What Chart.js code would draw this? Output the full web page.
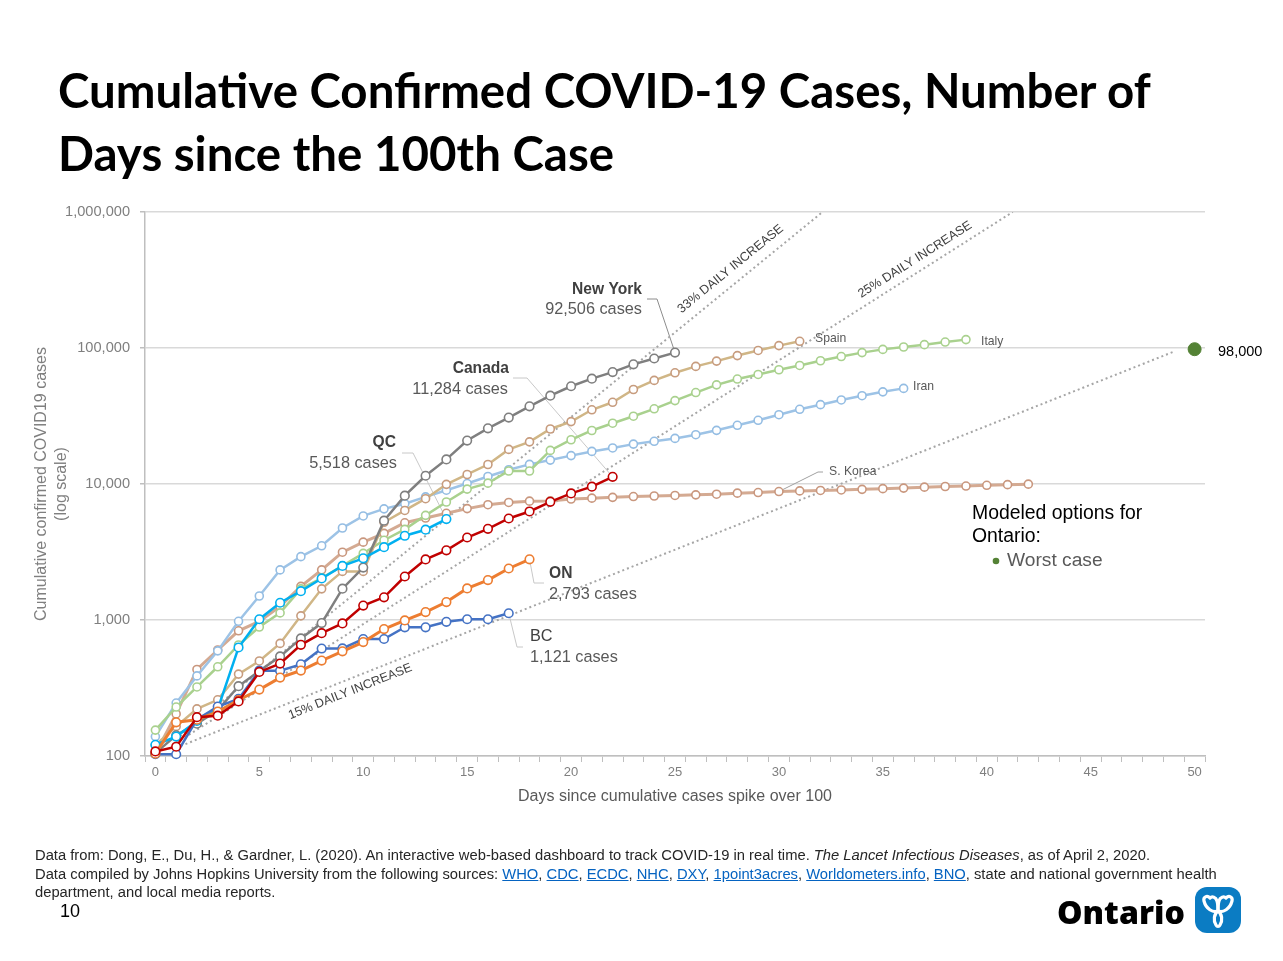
<!DOCTYPE html>
<html>
<head>
<meta charset="utf-8">
<script src="https://cdn.jsdelivr.net/npm/chart.js@4.4.0/dist/chart.umd.min.js"></script>
<style>
html,body{margin:0;padding:0;background:#fff;}
body{width:1283px;height:961px;position:relative;overflow:hidden;font-family:"Liberation Sans",Arial,sans-serif;}
#c{position:absolute;left:0;top:0;}
.t{position:absolute;white-space:nowrap;line-height:1.2;}
.title{font-family:Lato,"Open Sans",sans-serif;font-weight:700;color:#000;}
.foot{font-size:14px;color:#262626;}
.foot a{color:#0563c1;text-decoration:underline;}
#pg{font-size:18px;color:#000;}
#ont{font-family:"Open Sans",Lato,sans-serif;font-weight:800;color:#000;}
#logo{position:absolute;left:1195px;top:887px;width:46px;height:46px;}
</style>
</head>
<body>
<canvas id="c" width="1283" height="961"></canvas>
<div class="t title" id="t1">Cumulative Confirmed COVID-19 Cases, Number of</div>
<div class="t title" id="t2">Days since the 100th Case</div>
<div class="t foot" id="f1">Data from: Dong, E., Du, H., &amp; Gardner, L. (2020). An interactive web-based dashboard to track COVID-19 in real time. <i>The Lancet Infectious Diseases</i>, as of April 2, 2020.</div>
<div class="t foot" id="f2">Data compiled by Johns Hopkins University from the following sources: <a>WHO</a>, <a>CDC</a>, <a>ECDC</a>, <a>NHC</a>, <a>DXY</a>, <a>1point3acres</a>, <a>Worldometers.info</a>, <a>BNO</a>, state and national government health</div>
<div class="t foot" id="f3">department, and local media reports.</div>
<div class="t" id="pg">10</div>
<div class="t" id="ont">Ontario</div>
<svg id="logo" viewBox="0 0 46 46">
  <rect x="0" y="0" width="46" height="46" rx="12" ry="12" fill="#0b7cc3"/>
  <g fill="none" stroke="#fff" stroke-width="3.2" stroke-linejoin="round">
    <path d="M23 24 C18 26 11 22 9 14 C8 10 12 8 15 11 C17 9 21 10 22 14 C23 17 23 21 23 24 Z"/>
    <path d="M23 24 C28 26 35 22 37 14 C38 10 34 8 31 11 C29 9 25 10 24 14 C23 17 23 21 23 24 Z"/>
    <path d="M23 24 C19 27 18 33 21 38 C22 40 24 40 25 38 C28 33 27 27 23 24 Z"/>
  </g>
</svg>
<script>
// ---------------- DATA ----------------
const xTickLabels = [0, 5, 10, 15, 20, 25, 30, 35, 40, 45, 50];
const dayTicks = [0,1,2,3,4,5,6,7,8,9,10,11,12,13,14,15,16,17,18,19,20,21,22,23,24,25,26,27,28,29,30,31,32,33,34,35,36,37,38,39,40,41,42,43,44,45,46,47,48,49,50];
const yTickValues = [100, 1000, 10000, 100000, 1000000];

const newYork = [105,142,173,217,326,421,540,732,950,1700,2430,5370,8200,11500,15168,20875,25665,30811,37258,44635,52318,59513,66497,75795,83712,92506];
const canada  = [108,117,193,198,252,415,478,657,800,943,1277,1469,2088,2790,3251,4042,4682,5576,6280,7398,8527,9560,11284];
const quebec  = [121,139,181,221,628,1013,1339,1629,2021,2498,2840,3430,4162,4611,5518];
const ontario = [104,177,185,212,258,308,377,425,503,588,688,858,993,1144,1355,1706,1966,2392,2793];
const bc      = [103,103,186,231,263,424,424,472,617,618,725,725,884,884,970,1013,1013,1121];
const spain   = [120,165,222,259,400,500,673,1073,1695,2277,2277,5232,6391,7798,9942,11748,13910,17963,20410,25374,28768,35136,39885,49515,57786,65719,73235,80110,87956,95923,104118,112065];
const italy   = [155,229,322,453,655,888,1128,1694,2036,2502,3089,3858,4636,5883,7375,9172,10149,12462,12462,17660,21157,24747,27980,31506,35713,41035,47021,53578,59138,63927,69176,74386,80589,86498,92472,97689,101739,105792,110574,115242];
const iran    = [139,245,388,593,978,1501,2336,2922,3513,4747,5823,6566,7161,8042,9000,10075,11364,12729,13938,14991,16169,17361,18407,19644,20610,21638,23049,24811,27017,29406,32332,35408,38309,41495,44605,47593,50468];
const korea   = [104,204,433,602,833,977,1261,1766,2337,3150,3736,4335,5186,5621,6088,6593,7041,7314,7478,7513,7755,7869,7979,8086,8162,8236,8320,8413,8565,8652,8799,8897,8961,9037,9137,9241,9332,9478,9583,9661,9786,9887,9976];
const worstCaseDay = [50];
const worstCaseValue = [98000];
// reference growth guides (start/end points)
const rate33 = [{x:1, y:133}, {x:32.1, y:1000000}];
const rate25 = [{x:1, y:125}, {x:41.25, y:1000000}];
const rate15 = [{x:1, y:115}, {x:49, y:94000}];

// ---------------- HELPERS ----------------
const FAM = '"Liberation Sans", Arial, sans-serif';
const pts = arr => arr.map((v, i) => ({x: i, y: v}));

function series(label, arr, line, point, width, order, rad) {
  return {
    label, data: pts(arr), borderColor: line, borderWidth: width,
    pointRadius: rad || 4, pointBorderWidth: 1.6, pointBorderColor: point,
    pointBackgroundColor: '#ffffff', tension: 0, order, clip: false
  };
}
function guide(label, d) {
  return {label, data: d, borderColor: '#a6a6a6', borderWidth: 2, borderDash: [2, 3],
          pointRadius: 0, tension: 0, order: 50};
}

const annot = {
  id: 'annot',
  beforeDatasetsDraw(chart) {
    const {ctx, scales: {x, y}} = chart;
    const end = arr => [x.getPixelForValue(arr.length - 1), y.getPixelForValue(arr[arr.length - 1])];
    const at = (arr, i) => [x.getPixelForValue(i), y.getPixelForValue(arr[i])];
    ctx.save();
    ctx.lineWidth = 1;
    const leader = (p, col) => {
      ctx.strokeStyle = col; ctx.beginPath();
      p.forEach((q, i) => i ? ctx.lineTo(q[0], q[1]) : ctx.moveTo(q[0], q[1]));
      ctx.stroke();
    };
    leader([[647, 299], [657, 299], end(newYork)], '#8c8c8c');
    leader([[513, 378], [527, 378], end(canada)], '#c8c8c8');
    leader([[402, 453], [413, 453], end(quebec)], '#c8c8c8');
    leader([end(ontario), [534, 583], [544, 583]], '#c8c8c8');
    leader([end(bc), [517, 647], [523, 647]], '#c8c8c8');
    leader([[823, 472], [818, 472], at(korea, 30)], '#a0a0a0');
    ctx.restore();
  },
  afterDatasetsDraw(chart) {
    const {ctx, scales: {x, y}} = chart;
    ctx.save();
    const txt = (s, px, py, font, col, align) => {
      ctx.font = font; ctx.fillStyle = col; ctx.textAlign = align || 'left';
      ctx.textBaseline = 'middle'; ctx.fillText(s, px, py);
    };
    const B = 'bold 15.6px ' + FAM, R = '16.3px ' + FAM, S = '12.2px ' + FAM;
    txt('New York', 642, 290, B, '#404040', 'right');
    txt('92,506 cases', 642, 310, R, '#595959', 'right');
    txt('Canada', 509, 369, B, '#404040', 'right');
    txt('11,284 cases', 508, 390, R, '#595959', 'right');
    txt('QC', 396, 443, B, '#404040', 'right');
    txt('5,518 cases', 397, 464, R, '#595959', 'right');
    txt('ON', 549, 574, B, '#404040');
    txt('2,793 cases', 549, 595, R, '#595959');
    txt('BC', 530, 637, R, '#404040');
    txt('1,121 cases', 530, 658, R, '#595959');
    txt('Spain', 815, 339, S, '#595959');
    txt('Italy', 981, 342, S, '#595959');
    txt('Iran', 913, 387, S, '#595959');
    txt('S. Korea', 829, 472, S, '#595959');
    txt('98,000', 1218, 352, '14.5px ' + FAM, '#000');
    txt('Modeled options for', 972, 514, '19.4px ' + FAM, '#000');
    txt('Ontario:', 972, 537, '19.4px ' + FAM, '#000');
    ctx.fillStyle = '#548235'; ctx.beginPath(); ctx.arc(996, 561, 3.3, 0, Math.PI * 2); ctx.fill();
    txt('Worst case', 1007, 561, '19.2px ' + FAM, '#595959');

    const rateLabel = (d, s, t, off) => {
      const p1 = [x.getPixelForValue(d[0].x), y.getPixelForValue(d[0].y)];
      const p2 = [x.getPixelForValue(d[1].x), y.getPixelForValue(d[1].y)];
      const ang = Math.atan2(p2[1] - p1[1], p2[0] - p1[0]);
      const cx = x.getPixelForValue(t);
      const cy = p1[1] + (cx - p1[0]) / (p2[0] - p1[0]) * (p2[1] - p1[1]);
      ctx.save(); ctx.translate(cx, cy); ctx.rotate(ang);
      ctx.font = '12.6px ' + FAM; ctx.fillStyle = '#404040';
      ctx.textAlign = 'center'; ctx.textBaseline = 'middle';
      ctx.fillText(s, 0, off); ctx.restore();
    };
    rateLabel(rate33, '33% DAILY INCREASE', 28.1, -14);
    rateLabel(rate25, '25% DAILY INCREASE', 36.86, -12);
    rateLabel(rate15, '15% DAILY INCREASE', 9.16, 12);
    ctx.restore();
  }
};

function placeText(id, x, baseline, align) {
  const el = document.getElementById(id);
  const m = document.createElement('span');
  m.style.cssText = 'display:inline-block;width:0;height:0;vertical-align:baseline;';
  el.appendChild(m);
  el.style.top = '0px';
  const b = m.offsetTop + m.offsetHeight;
  el.style.top = (baseline - b) + 'px';
  el.style.left = (align === 'right' ? x - el.offsetWidth : x) + 'px';
}

function fitFont(id, targetW, weight, family, style) {
  const el = document.getElementById(id);
  const cv = document.createElement('canvas').getContext('2d');
  cv.font = (style || '') + ' ' + weight + ' 100px ' + family;
  const w = cv.measureText(el.textContent).width;
  const fs = 100 * targetW / w;
  el.style.fontSize = fs + 'px';
  return fs;
}

function build() {
  const fs = fitFont('t1', 1094, '700', 'Lato');
  document.getElementById('t2').style.fontSize = fs + 'px';
  placeText('t1', 58, 108);
  placeText('t2', 58, 171);
  const ffs = fitFont('f2', 1182, '400', '"Liberation Sans"');
  document.getElementById('f1').style.fontSize = ffs + 'px';
  document.getElementById('f3').style.fontSize = ffs + 'px';
  placeText('f1', 35, 860);
  placeText('f2', 35, 879);
  placeText('f3', 35, 897);
  placeText('pg', 60, 917);
  fitFont('ont', 128, '800', '"Open Sans"');
  placeText('ont', 1057, 924);

  new Chart(document.getElementById('c'), {
    type: 'line',
    data: {
      datasets: [
        {label: 'Worst case', data: worstCaseDay.map((d, i) => ({x: d, y: worstCaseValue[i]})),
         showLine: false, pointRadius: 6.5, pointBackgroundColor: '#548235', pointBorderColor: '#548235', order: 0},
        series('Canada', canada, '#c00000', '#c00000', 2.5, 1, 4.3),
        series('ON', ontario, '#ed7d31', '#ed7d31', 3, 2, 4.3),
        series('BC', bc, '#4472c4', '#4472c4', 2.5, 3, 4.3),
        series('QC', quebec, '#00b0f0', '#00b0f0', 2.5, 4, 4.3),
        series('New York', newYork, '#7f7f7f', '#7f7f7f', 2.5, 5, 4.3),
        series('Spain', spain, '#d0b686', '#c79c7e', 2.5, 6),
        series('Italy', italy, '#a9d18e', '#a9d18e', 2.5, 7),
        series('Iran', iran, '#9dc3e6', '#94bde3', 2.5, 8),
        series('S. Korea', korea, '#d4aa92', '#c9977e', 3, 9),
        guide('33%', rate33),
        guide('25%', rate25),
        guide('15%', rate15)
      ]
    },
    options: {
      responsive: false,
      animation: false,
      devicePixelRatio: 1,
      layout: {padding: {top: 212, right: 78, bottom: 145, left: 0}},
      plugins: {legend: {display: false}, tooltip: {enabled: false}},
      scales: {
        x: {
          type: 'linear', min: -0.5, max: 50.5,
          afterBuildTicks: s => { s.ticks = dayTicks.map(v => ({value: v})); },
          afterFit: s => { s.height = 60; },
          ticks: {autoSkip: false, maxRotation: 0, padding: 3, color: '#7f7f7f',
                  font: {size: 13, family: FAM},
                  callback: v => xTickLabels.includes(v) ? String(v) : ''},
          grid: {display: true, drawOnChartArea: false, drawTicks: true, tickLength: 6,
                 offset: true, color: '#bfbfbf', tickColor: '#bfbfbf', lineWidth: 1},
          border: {display: true, color: '#bfbfbf', width: 1.5},
          title: {display: true, text: 'Days since cumulative cases spike over 100', color: '#595959',
                  font: {size: 16, family: FAM}, padding: {top: 0, bottom: 10}}
        },
        y: {
          type: 'logarithmic', min: 100, max: 1000000,
          afterBuildTicks: s => { s.ticks = yTickValues.map(v => ({value: v})); },
          afterFit: s => { s.width = 145; },
          ticks: {padding: 10, color: '#7f7f7f', font: {size: 14.6, family: FAM},
                  callback: v => Number(v).toLocaleString('en-US')},
          grid: {color: '#d9d9d9', lineWidth: 1.5, tickLength: 5, drawTicks: true, tickColor: '#bfbfbf'},
          border: {display: true, color: '#bfbfbf', width: 1.5},
          title: {display: true, text: ['Cumulative confirmed COVID19 cases', '(log scale)'], color: '#7f7f7f',
                  font: {size: 16, family: FAM, lineHeight: 1.25}, padding: {top: 32, bottom: 0}}
        }
      }
    },
    plugins: [annot]
  });
}

if (document.fonts && document.fonts.ready) {
  document.fonts.ready.then(build);
} else {
  build();
}
</script>
</body>
</html>
